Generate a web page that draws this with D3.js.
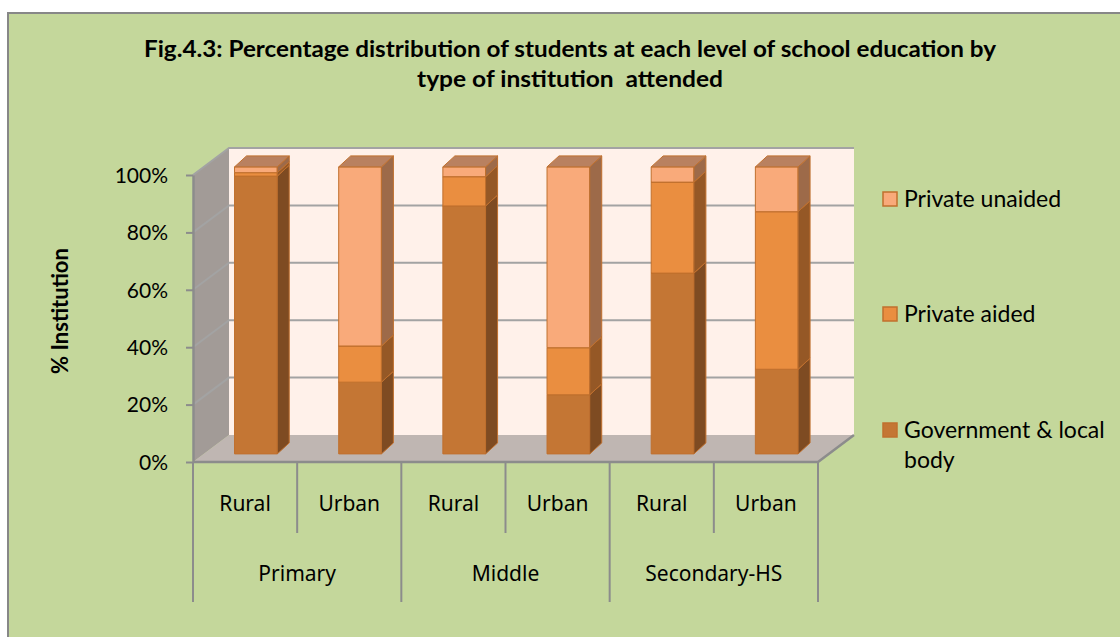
<!DOCTYPE html>
<html>
  <head>
    <meta charset="utf-8">
    <title>Fig.4.3</title>
    <script src="https://d3js.org/d3.v7.min.js"></script>
    <style>
      body { margin: 0; background: #fff; }
      svg { display: block; }
      .title { font-family: Lato, sans-serif; font-weight: bold; font-size: 22px; fill: #000; white-space: pre; }
      .tick text { font-family: Lato, sans-serif; font-size: 21px; fill: #000; }
      .cat { font-family: "Noto Sans", sans-serif; font-size: 21px; fill: #000; }
      .legend text { font-family: Lato, sans-serif; font-size: 23px; fill: #000; }
      .ylabel { font-family: Lato, sans-serif; font-weight: bold; font-size: 22px; }
    </style>
  </head>
  <body>
    <svg id="chart" width="1120" height="637"></svg>
    <script>
      // data
      groups = ["Primary", "Middle", "Secondary-HS"];
      areas = ["Rural", "Urban"];
      seriesNames = ["Government & local body", "Private aided", "Private unaided"];
      government = [96.8, 25.0, 86.4, 20.6, 63.0, 29.5];
      privateAided = [1.2, 12.6, 10.2, 16.4, 31.7, 54.9];
      privateUnaided = [2.0, 62.4, 3.4, 63.0, 5.3, 15.6];
      yTicks = [0, 20, 40, 60, 80, 100];

      // colours: front, side, top
      colours = [
        { front: "#c47634", side: "#7e4b22", top: "#b87a50" },
        { front: "#ea8e40", side: "#955826", top: "#c2855a" },
        { front: "#f9aa7a", side: "#9d6a49", top: "#b98160" }
      ];

      chart = d3.select("#chart");
      depth = { dx: 36, dy: -27 };
      barDepth = { dx: 12, dy: -11 };
      barOffset = 0.3;

      // table of bars
      rows = [];
      groups.forEach(function(g, gi) {
        areas.forEach(function(a, ai) {
          var i = gi * areas.length + ai;
          rows.push({ key: i, group: g, area: a, s0: government[i], s1: privateAided[i], s2: privateUnaided[i] });
        });
      });
      stacked = d3.stack().keys(["s0", "s1", "s2"])(rows);

      x = d3.scaleBand().domain(rows.map(function(d) { return d.key; })).range([193, 818]);
      y = d3.scaleLinear().domain([0, 100]).range([462, 175]);
      barW = x.bandwidth() * 0.41;

      // background + border
      chart.append("rect").attr("x", 8).attr("y", 13).attr("width", 1120).attr("height", 640)
        .style("fill", "#c4d79b").style("stroke", "#878787").style("stroke-width", 2);

      // title
      title = chart.append("text").attr("class", "title").attr("text-anchor", "middle");
      title.append("tspan").attr("x", 570).attr("y", 57)
        .attr("textLength", 852).attr("lengthAdjust", "spacingAndGlyphs")
        .text("Fig.4.3: Percentage distribution of students at each level of school education by");
      title.append("tspan").attr("x", 570).attr("y", 87)
        .attr("textLength", 306).attr("lengthAdjust", "spacingAndGlyphs")
        .text("type of institution  attended");

      // walls and floor
      x0 = x.range()[0]; x1 = x.range()[1];
      function pt(px, py, f) { return [px + f * depth.dx, py + f * depth.dy]; }
      function poly(points) { return points.map(function(p) { return p.join(","); }).join(" "); }
      chart.append("polygon")
        .attr("points", poly([pt(x0, y(100), 1), pt(x1, y(100), 1), pt(x1, y(0), 1), pt(x0, y(0), 1)]))
        .style("fill", "#fff1ea");
      chart.append("polygon")
        .attr("points", poly([pt(x0, y(0), 0), pt(x0, y(100), 0), pt(x0, y(100), 1), pt(x0, y(0), 1)]))
        .style("fill", "#a29b97");
      chart.append("polygon")
        .attr("points", poly([pt(x0, y(0), 0), pt(x0, y(0), 1), pt(x1, y(0), 1), pt(x1, y(0), 0)]))
        .style("fill", "#bfb6b2");

      // gridlines
      grid = chart.append("g").style("stroke", "#a3a3a3").style("stroke-width", 2).style("fill", "none");
      yTicks.filter(function(t) { return t > 0; }).forEach(function(t) {
        grid.append("polyline")
          .attr("points", poly([pt(x0, y(t), 0), pt(x0, y(t), 1), pt(x1, y(t), 1)]));
      });
      chart.append("polyline")
        .attr("points", poly([pt(x0, y(0), 0), pt(x1, y(0), 0), pt(x1, y(0), 1)]))
        .style("stroke", "#8c8c8c").style("stroke-width", 2.5).style("fill", "none");

      // bars
      barGroup = chart.append("g");
      stacked.forEach(function(layer, li) {
        layer.forEach(function(seg, i) {
          var d = seg.data;
          var left = x(d.key) + (x.bandwidth() - barW) / 2 + barOffset * depth.dx;
          var right = left + barW;
          var yb = y(seg[0]) + barOffset * depth.dy;
          var yt = y(seg[1]) + barOffset * depth.dy;
          var c = colours[li];
          var g = barGroup.append("g").style("stroke", "#c0702e").style("stroke-width", 1).style("stroke-linejoin", "round");
          g.append("polygon").attr("points", poly([[left, yb], [right, yb], [right, yt], [left, yt]]))
            .style("fill", c.front);
          g.append("polygon").attr("points", poly([[right, yb], [right + barDepth.dx, yb + barDepth.dy],
              [right + barDepth.dx, yt + barDepth.dy], [right, yt]]))
            .style("fill", c.side);
          g.append("polygon").attr("points", poly([[left, yt], [right, yt],
              [right + barDepth.dx, yt + barDepth.dy], [left + barDepth.dx, yt + barDepth.dy]]))
            .style("fill", c.top);
        });
      });

      // y axis
      yAxis = d3.axisLeft(y).tickValues(yTicks).tickSize(7).tickSizeOuter(0).tickPadding(18)
        .tickFormat(function(d) { return d + "%"; });
      yAxisGroup = chart.append("g").attr("transform", "translate(" + x0 + ",0)").call(yAxis);
      yAxisGroup.select(".domain").style("stroke", "#8c8c8c").style("stroke-width", 2.5);
      yAxisGroup.selectAll(".tick line").style("stroke", "#8c8c8c").style("stroke-width", 2);
      yAxisGroup.selectAll(".tick text").attr("dy", "0.35em");
      yAxisGroup.attr("font-family", null).attr("font-size", null);

      chart.append("text").attr("class", "ylabel").attr("text-anchor", "middle")
        .attr("transform", "translate(68,311) rotate(-90)").text("% Institution");

      // category axis
      cats = chart.append("g");
      rows.forEach(function(d) {
        cats.append("text").attr("class", "cat").attr("text-anchor", "middle")
          .attr("x", x(d.key) + x.bandwidth() / 2).attr("y", 511).text(d.area);
      });
      groups.forEach(function(g, gi) {
        var gx = x(gi * areas.length);
        cats.append("text").attr("class", "cat").attr("text-anchor", "middle")
          .attr("x", gx + x.bandwidth()).attr("y", 581).text(g);
      });
      d3.range(rows.length + 1).forEach(function(k) {
        var lx = k < rows.length ? x(k) : x1;
        cats.append("line").attr("x1", lx).attr("x2", lx).attr("y1", 462)
          .attr("y2", k % areas.length === 0 ? 602 : 533)
          .style("stroke", "#8c8c8c").style("stroke-width", 2);
      });

      // legend
      legendY = [430, 314, 199];
      legend = chart.append("g").attr("class", "legend");
      seriesNames.forEach(function(name, i) {
        var item = legend.append("g").attr("transform", "translate(883," + legendY[i] + ")");
        item.append("rect").attr("x", 0).attr("y", -7).attr("width", 14).attr("height", 14)
          .style("fill", colours[i].front).style("stroke", "#c0702e").style("stroke-width", 1.5);
        var t = item.append("text").attr("x", 21).attr("y", 8);
        if (name === "Government & local body") {
          t.append("tspan").attr("x", 21).text("Government & local");
          t.append("tspan").attr("x", 21).attr("dy", 30).text("body");
        } else {
          t.text(name);
        }
      });
    </script>
  </body>
</html>
